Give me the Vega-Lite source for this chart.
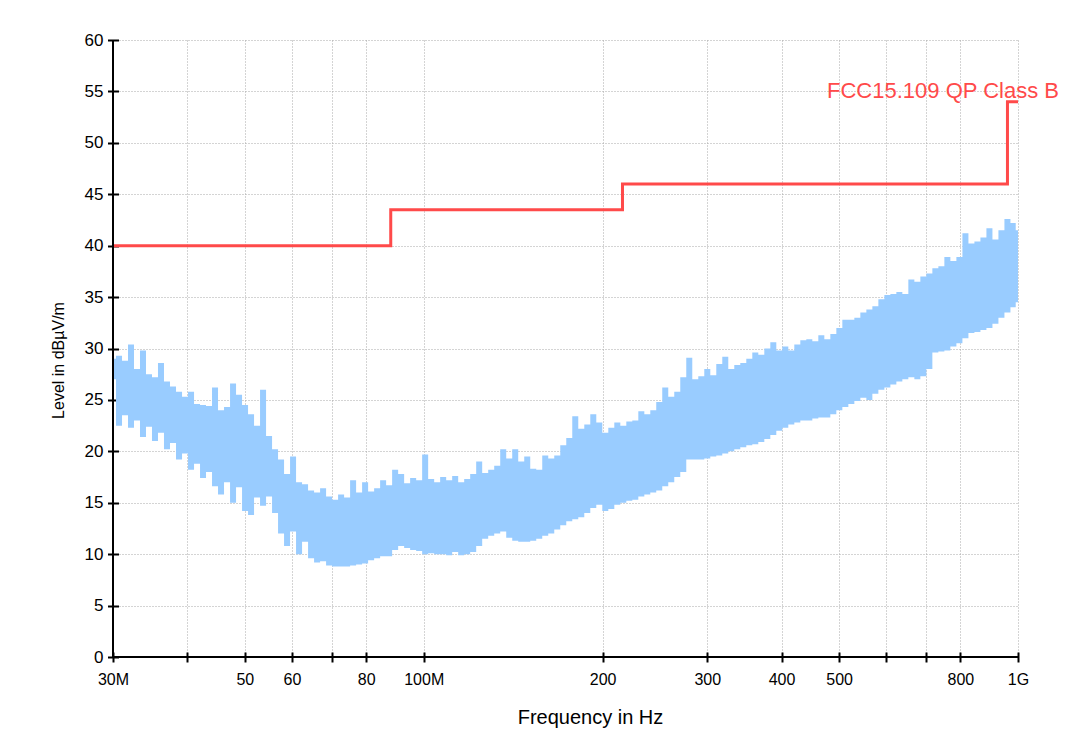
{
  "$schema": "https://vega.github.io/schema/vega-lite/v6.json",
  "width": 905,
  "height": 617,
  "autosize": {"type": "none"},
  "padding": {"left": 113, "top": 40, "right": 71, "bottom": 72},
  "background": "white",
  "config": {"view": {"stroke": null}, "font": "Liberation Sans"},
  "datasets": {
    "spectrum": [
      {"f":30,"lo":27.0,"hi":29.0},{"f":30.71,"lo":22.5,"hi":29.3},{"f":31.43,"lo":23.5,"hi":28.8},{"f":32.17,"lo":22.3,"hi":30.4},
      {"f":32.92,"lo":23.0,"hi":28.0},{"f":33.70,"lo":21.4,"hi":29.8},{"f":34.49,"lo":22.4,"hi":27.5},{"f":35.30,"lo":21.0,"hi":27.2},
      {"f":36.13,"lo":21.8,"hi":28.6},{"f":36.98,"lo":20.2,"hi":26.8},{"f":37.85,"lo":20.8,"hi":26.3},{"f":38.75,"lo":19.2,"hi":25.8},
      {"f":39.66,"lo":19.8,"hi":25.3},{"f":40.59,"lo":18.2,"hi":25.8},{"f":41.55,"lo":18.8,"hi":24.6},{"f":42.52,"lo":17.4,"hi":24.5},
      {"f":43.52,"lo":18.0,"hi":24.4},{"f":44.55,"lo":16.6,"hi":26.2},{"f":45.59,"lo":15.8,"hi":24.0},{"f":46.67,"lo":17.0,"hi":24.3},
      {"f":47.77,"lo":15.0,"hi":26.6},{"f":48.89,"lo":16.5,"hi":25.5},{"f":50.04,"lo":14.2,"hi":24.5},{"f":51.22,"lo":13.8,"hi":23.6},
      {"f":52.42,"lo":15.5,"hi":22.5},{"f":53.66,"lo":14.7,"hi":26.0},{"f":54.92,"lo":15.6,"hi":21.5},{"f":56.21,"lo":14.0,"hi":20.2},
      {"f":57.53,"lo":12.0,"hi":19.2},{"f":58.89,"lo":10.8,"hi":17.8},{"f":60.27,"lo":12.2,"hi":19.5},{"f":61.69,"lo":10.0,"hi":17.0},
      {"f":63.14,"lo":11.2,"hi":16.8},{"f":64.63,"lo":9.6,"hi":16.2},{"f":66.15,"lo":9.2,"hi":16.0},{"f":67.71,"lo":9.3,"hi":16.4},
      {"f":69.30,"lo":8.9,"hi":15.6},{"f":70.93,"lo":8.8,"hi":15.3},{"f":72.60,"lo":8.8,"hi":15.8},{"f":74.31,"lo":8.8,"hi":15.5},
      {"f":76.06,"lo":8.9,"hi":17.2},{"f":77.85,"lo":9.0,"hi":16.0},{"f":79.68,"lo":9.1,"hi":17.0},{"f":81.56,"lo":9.4,"hi":16.1},
      {"f":83.48,"lo":9.6,"hi":16.4},{"f":85.44,"lo":9.8,"hi":17.2},{"f":87.45,"lo":9.8,"hi":16.7},{"f":89.51,"lo":10.4,"hi":18.2},
      {"f":91.62,"lo":10.8,"hi":17.8},{"f":93.77,"lo":10.6,"hi":16.9},{"f":95.98,"lo":10.4,"hi":17.4},{"f":98.24,"lo":10.3,"hi":17.2},
      {"f":100.55,"lo":10.0,"hi":19.7},{"f":102.92,"lo":10.1,"hi":17.3},{"f":105.34,"lo":10.0,"hi":17.0},{"f":107.82,"lo":10.0,"hi":17.5},
      {"f":110.36,"lo":9.9,"hi":17.2},{"f":112.96,"lo":10.2,"hi":17.6},{"f":115.62,"lo":9.9,"hi":17.0},{"f":118.34,"lo":10.0,"hi":17.3},
      {"f":121.12,"lo":10.2,"hi":17.8},{"f":123.97,"lo":10.8,"hi":19.0},{"f":126.89,"lo":11.5,"hi":17.9},{"f":129.88,"lo":11.8,"hi":18.2},
      {"f":132.94,"lo":12.0,"hi":18.6},{"f":136.07,"lo":12.2,"hi":20.2},{"f":139.27,"lo":11.6,"hi":19.3},{"f":142.55,"lo":11.3,"hi":20.2},
      {"f":145.90,"lo":11.2,"hi":19.0},{"f":149.34,"lo":11.2,"hi":19.5},{"f":152.85,"lo":11.3,"hi":18.3},{"f":156.45,"lo":11.5,"hi":18.2},
      {"f":160.13,"lo":11.8,"hi":19.6},{"f":163.90,"lo":12.0,"hi":19.3},{"f":167.76,"lo":12.4,"hi":19.6},{"f":171.71,"lo":12.8,"hi":20.6},
      {"f":175.75,"lo":13.2,"hi":21.3},{"f":179.89,"lo":13.4,"hi":23.4},{"f":184.12,"lo":13.6,"hi":22.2},{"f":188.46,"lo":14.0,"hi":22.6},
      {"f":192.89,"lo":14.5,"hi":23.6},{"f":197.43,"lo":14.8,"hi":22.8},{"f":202.08,"lo":14.2,"hi":21.8},{"f":206.84,"lo":14.4,"hi":22.3},
      {"f":211.71,"lo":14.8,"hi":22.8},{"f":216.69,"lo":15.0,"hi":22.5},{"f":221.79,"lo":15.2,"hi":22.9},{"f":227.01,"lo":15.3,"hi":23.0},
      {"f":232.35,"lo":15.6,"hi":23.9},{"f":237.82,"lo":15.8,"hi":23.6},{"f":243.34,"lo":16.0,"hi":24.0},{"f":249.07,"lo":16.2,"hi":24.8},
      {"f":254.93,"lo":16.6,"hi":26.2},{"f":260.93,"lo":17.0,"hi":25.3},{"f":267.07,"lo":17.5,"hi":25.8},{"f":273.36,"lo":18.0,"hi":27.2},
      {"f":279.79,"lo":19.2,"hi":29.1},{"f":286.38,"lo":19.2,"hi":27.0},{"f":293.12,"lo":19.2,"hi":27.3},{"f":300.02,"lo":19.3,"hi":28.0},
      {"f":307.08,"lo":19.5,"hi":27.4},{"f":314.28,"lo":19.6,"hi":28.5},{"f":321.68,"lo":19.8,"hi":29.2},{"f":329.25,"lo":20.0,"hi":28.0},
      {"f":337.00,"lo":20.2,"hi":28.4},{"f":344.93,"lo":20.4,"hi":28.6},{"f":353.05,"lo":20.6,"hi":29.0},{"f":361.36,"lo":20.7,"hi":29.6},
      {"f":369.87,"lo":20.9,"hi":29.4},{"f":378.58,"lo":21.2,"hi":30.0},{"f":387.49,"lo":21.6,"hi":30.6},{"f":396.57,"lo":22.0,"hi":29.8},
      {"f":405.90,"lo":22.3,"hi":30.2},{"f":415.46,"lo":22.6,"hi":29.8},{"f":425.24,"lo":22.8,"hi":30.4},{"f":435.25,"lo":23.0,"hi":30.8},
      {"f":445.49,"lo":23.0,"hi":30.9},{"f":455.98,"lo":23.2,"hi":30.7},{"f":466.71,"lo":23.3,"hi":31.3},{"f":477.70,"lo":23.3,"hi":30.9},
      {"f":488.94,"lo":23.6,"hi":31.4},{"f":500.45,"lo":24.0,"hi":32.0},{"f":512.23,"lo":24.3,"hi":32.8},{"f":524.28,"lo":24.6,"hi":32.8},
      {"f":536.62,"lo":24.9,"hi":33.0},{"f":549.25,"lo":25.2,"hi":33.5},{"f":562.18,"lo":25.0,"hi":33.8},{"f":575.41,"lo":25.6,"hi":34.1},
      {"f":588.96,"lo":26.0,"hi":34.8},{"f":602.82,"lo":26.2,"hi":35.2},{"f":617.01,"lo":26.5,"hi":35.3},{"f":631.42,"lo":26.8,"hi":35.5},
      {"f":646.28,"lo":27.0,"hi":35.3},{"f":661.50,"lo":27.2,"hi":36.7},{"f":677.07,"lo":27.0,"hi":36.5},{"f":693.00,"lo":27.3,"hi":37.0},
      {"f":709.31,"lo":28.0,"hi":37.3},{"f":726.01,"lo":29.6,"hi":37.8},{"f":743.10,"lo":29.7,"hi":38.0},{"f":760.59,"lo":29.8,"hi":38.9},
      {"f":778.49,"lo":30.2,"hi":38.5},{"f":796.9,"lo":30.5,"hi":38.9},{"f":815.7,"lo":31.0,"hi":41.2},{"f":834.9,"lo":31.5,"hi":40.2},
      {"f":854.5,"lo":31.6,"hi":40.4},{"f":874.6,"lo":31.8,"hi":40.8},{"f":895.2,"lo":32.0,"hi":41.7},{"f":916.3,"lo":32.4,"hi":40.6},
      {"f":937.8,"lo":33.0,"hi":41.5},{"f":959.9,"lo":33.5,"hi":42.6},{"f":982.5,"lo":34.0,"hi":42.2},{"f":1000,"lo":34.5,"hi":41.5}
    ],
    "limit": [
      {"i":0,"f":30,"level":40},{"i":1,"f":88,"level":40},{"i":2,"f":88,"level":43.5},{"i":3,"f":216,"level":43.5},
      {"i":4,"f":216,"level":46},{"i":5,"f":960,"level":46},{"i":6,"f":960,"level":54},{"i":7,"f":1000,"level":54}
    ],
    "label": [{"f":1000,"level":54,"label":"FCC15.109 QP Class B"}]
  },
  "layer": [
    {
      "data": {"name": "spectrum"},
      "mark": {"type": "area", "color": "#99ccff", "interpolate": "step", "opacity": 1},
      "encoding": {
        "x": {
          "field": "f", "type": "quantitative",
          "scale": {"type": "log", "domain": [30, 1000], "nice": false},
          "axis": {
            "title": "Frequency in Hz",
            "values": [30,40,50,60,70,80,100,200,300,400,500,600,700,800,1000],
            "labelExpr": "datum.value == 30 ? '30M' : datum.value == 100 ? '100M' : datum.value == 1000 ? '1G' : (datum.value == 40 || datum.value == 70 || datum.value == 600 || datum.value == 700) ? '' : format(datum.value, 'd')",
            "offset": -5, "tickSize": 10, "tickWidth": 2, "tickColor": "black",
            "domain": false, "grid": true, "gridColor": "#a8a8a8", "gridDash": [1, 2], "gridWidth": 1,
            "labelFontSize": 16, "labelColor": "black", "labelPadding": 9,
            "labelFlush": false, "labelOverlap": false, "labelBound": false,
            "titleFontSize": 20, "titleFontWeight": "normal", "titleColor": "black",
            "titleX": 477, "titleY": 65, "titleBaseline": "middle", "titleAlign": "center"
          }
        },
        "y": {
          "field": "lo", "type": "quantitative",
          "scale": {"domain": [0, 60], "nice": false},
          "axis": {
            "title": "Level in dBµV/m",
            "values": [0,2.5,5,7.5,10,12.5,15,17.5,20,22.5,25,27.5,30,32.5,35,37.5,40,42.5,45,47.5,50,52.5,55,57.5,60],
            "labelExpr": "datum.value % 5 == 0 ? format(datum.value, 'd') : ''",
            "offset": -5.5, "tickSize": 11, "tickWidth": 2, "tickColor": "black",
            "domain": false, "grid": true, "gridColor": "#a8a8a8", "gridDash": [1, 2], "gridWidth": 1,
            "labelFontSize": 17, "labelColor": "black", "labelPadding": 4.5,
            "labelFlush": false, "labelOverlap": false, "labelBound": false,
            "titleFontSize": 16, "titleFontWeight": "normal", "titleColor": "black",
            "titleX": -60.5, "titleY": 320, "titleAngle": -90, "titleBaseline": "middle", "titleAlign": "center"
          }
        },
        "y2": {"field": "hi"}
      }
    },
    {
      "data": {"name": "limit"},
      "mark": {"type": "line", "color": "#ff4a4a", "strokeWidth": 3, "interpolate": "linear"},
      "encoding": {
        "x": {"field": "f", "type": "quantitative", "title": "Frequency in Hz"},
        "y": {"field": "level", "type": "quantitative", "title": "Level in dBµV/m"},
        "order": {"field": "i", "type": "quantitative"}
      }
    },
    {
      "data": {"name": "label"},
      "mark": {"type": "text", "color": "#ff4a4a", "fontSize": 22, "font": "Liberation Sans", "align": "center", "baseline": "alphabetic", "dx": -75, "dy": -4},
      "encoding": {
        "x": {"field": "f", "type": "quantitative", "title": "Frequency in Hz"},
        "y": {"field": "level", "type": "quantitative", "title": "Level in dBµV/m"},
        "text": {"field": "label"}
      }
    },
    {
      "data": {"values": [{}]},
      "mark": {"type": "rule", "color": "black", "strokeWidth": 2},
      "encoding": {"y": {"datum": 0}}
    },
    {
      "data": {"values": [{}]},
      "mark": {"type": "rule", "color": "black", "strokeWidth": 2},
      "encoding": {"x": {"datum": 30}}
    }
  ]
}
